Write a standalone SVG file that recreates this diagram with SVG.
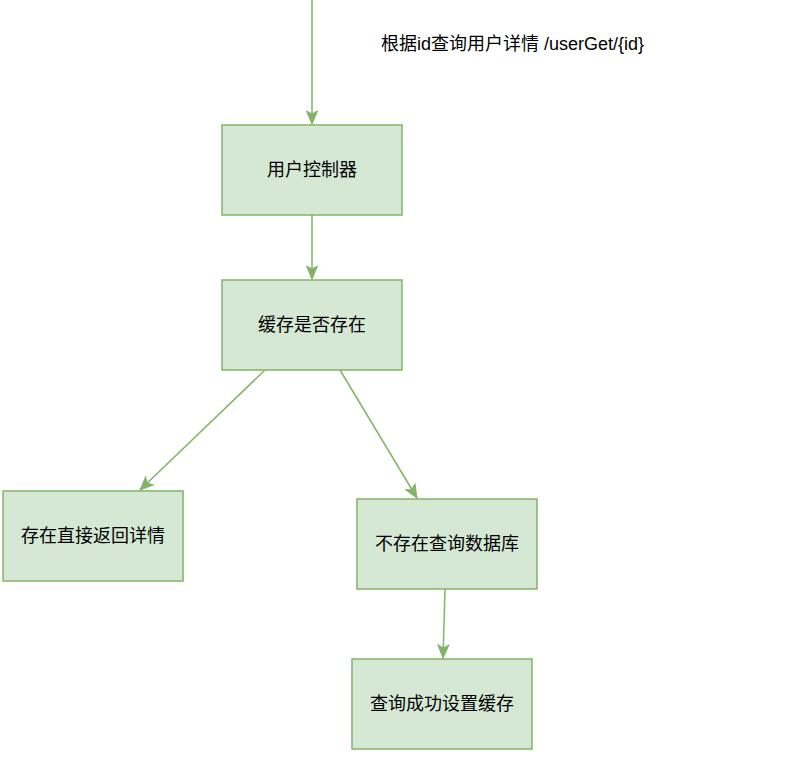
<svg xmlns="http://www.w3.org/2000/svg" width="808" height="769" viewBox="0 0 808 769">
<style>
.node rect{fill:#d5e8d4;stroke:#82b366;stroke-width:1.5}
text{font-family:"Liberation Sans","Noto Sans CJK SC",sans-serif;font-size:18px;fill:#000}
.node text{text-anchor:middle}
.edge{fill:none;stroke:#82b366;stroke-width:1.5;marker-end:url(#arr)}
</style>
<defs>
<marker id="arr" markerUnits="userSpaceOnUse" viewBox="-14 -7 15 14" refX="0" refY="0" markerWidth="15" markerHeight="14" orient="auto">
<path d="M0,0 L-13,-5.5 L-10,0 L-13,5.5 Z" fill="#82b366" stroke="#82b366" stroke-width="1"/>
</marker>
</defs>
<rect width="808" height="769" fill="#fff"/>
<g id="edges">
<path class="edge" d="M312,0 L312,124"/>
<path class="edge" d="M312,215 L312,279"/>
<path class="edge" d="M265,370 L140,490"/>
<path class="edge" d="M340,370 L417,498"/>
<path class="edge" d="M445,589 L443,658"/>
</g>
<g id="label"><text x="381" y="50">根据id查询用户详情 /userGet/{id}</text></g>
<g id="n1" class="node"><rect x="222" y="125" width="180" height="90"/><text x="312" y="176">用户控制器</text></g>
<g id="n2" class="node"><rect x="222" y="280" width="180" height="90"/><text x="312" y="331">缓存是否存在</text></g>
<g id="n3" class="node"><rect x="3" y="491" width="180" height="90"/><text x="93" y="542">存在直接返回详情</text></g>
<g id="n4" class="node"><rect x="357" y="499" width="180" height="90"/><text x="447" y="550">不存在查询数据库</text></g>
<g id="n5" class="node"><rect x="352" y="659" width="180" height="90"/><text x="442" y="710">查询成功设置缓存</text></g>
</svg>
